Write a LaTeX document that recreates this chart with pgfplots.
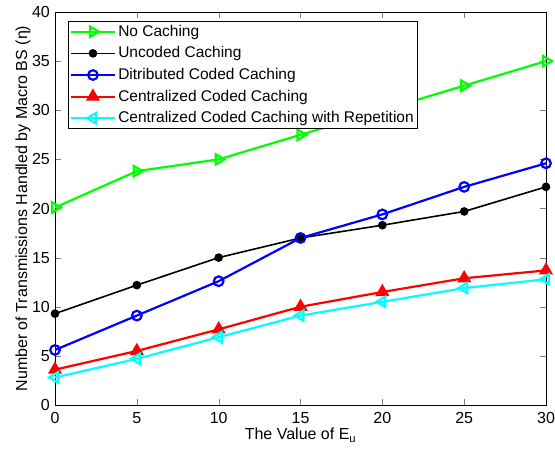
\documentclass[border=0pt]{standalone}
\usepackage{fontspec}
\setmainfont{Liberation Sans}
\usepackage{pgfplots}
\pgfplotsset{compat=1.18}
\definecolor{mgreen}{rgb}{0,1,0}
\definecolor{mcyan}{rgb}{0,1,1}
\begin{document}
\fontsize{16pt}{19pt}\selectfont
\begin{tikzpicture}
\begin{axis}[
  scale only axis,
  width=491pt, height=393pt,
  xmin=0, xmax=30, ymin=0, ymax=40,
  xtick={0,5,...,30}, ytick={0,5,...,40},
  tick align=inside, tick pos=both,
  major tick length=6pt,
  /pgf/number format/assume math mode=true,
  tick label style={font=\fontsize{16pt}{19pt}\selectfont, inner sep=0pt},
  yticklabel style={xshift=-5pt},
  xticklabel style={yshift=-7pt},
  label style={font=\fontsize{16pt}{19pt}\selectfont},
  xlabel={The Value of E\textsubscript{u}},
  ylabel={Number of Transmissions Handled by Macro BS (η)},
  xlabel style={yshift=1pt},
  ylabel style={yshift=-4pt},
  legend cell align=left,
  legend style={at={(0.026,0.977)}, anchor=north west, draw=black, line width=0.8pt, inner sep=1.5pt, row sep=4pt, font=\fontsize{15.5pt}{18pt}\selectfont, nodes={inner xsep=2pt}},
  legend image code/.code={\draw[mark repeat=2,mark phase=2] plot coordinates {(0cm,0cm) (0.78cm,0cm) (1.56cm,0cm)};},
  every axis plot/.append style={line width=2.2pt},
  axis line style={line width=0.8pt},
]
\addplot[color=mgreen, mark=triangle, mark size=6pt, mark options={rotate=-90, solid}] coordinates {(0,20.1) (5,23.8) (10,25) (15,27.5) (20,30) (25,32.5) (30,35)};
\addlegendentry{No Caching}
\addplot[color=black, mark=*, mark size=3.5pt, line width=1.6pt] coordinates {(0,9.3) (5,12.2) (10,15) (15,17) (20,18.3) (25,19.7) (30,22.2)};
\addlegendentry{Uncoded Caching}
\addplot[color=blue, mark=o, mark size=4.8pt] coordinates {(0,5.6) (5,9.1) (10,12.6) (15,17) (20,19.4) (25,22.2) (30,24.6)};
\addlegendentry{Ditributed Coded Caching}
\addplot[color=red, mark=triangle*, mark size=6pt] coordinates {(0,3.6) (5,5.5) (10,7.7) (15,10) (20,11.5) (25,12.9) (30,13.7)};
\addlegendentry{Centralized Coded Caching}
\addplot[color=mcyan, mark=triangle, mark size=6pt, mark options={rotate=90}] coordinates {(0,2.8) (5,4.7) (10,6.9) (15,9.1) (20,10.5) (25,11.9) (30,12.8)};
\addlegendentry{Centralized Coded Caching with Repetition}
\end{axis}
\path (current axis.north west) ++(-55pt,12pt);
\path (current axis.south east) ++(9pt,-46pt);
\end{tikzpicture}
\end{document}
